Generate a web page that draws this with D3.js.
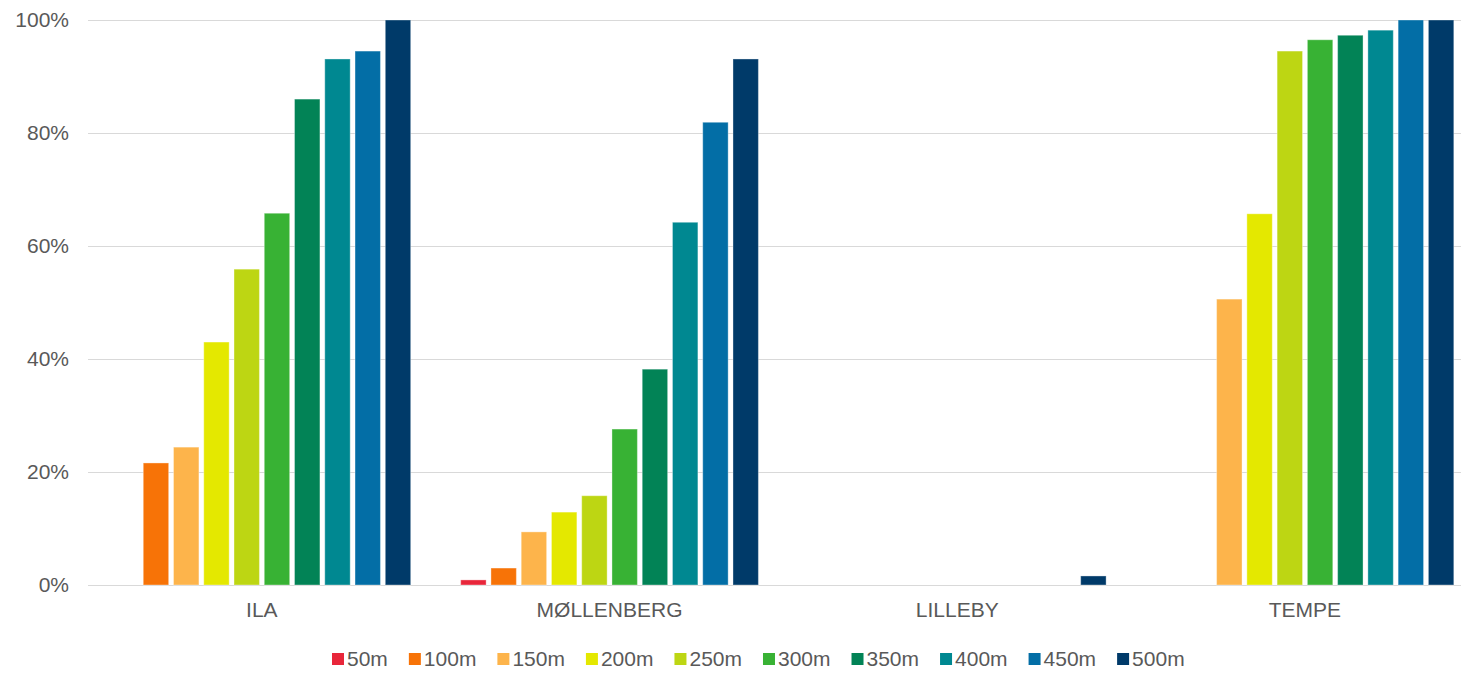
<!DOCTYPE html>
<html>
<head>
<meta charset="utf-8">
<script src="https://cdn.jsdelivr.net/npm/d3@7"></script>
<style>
  body { margin: 0; background: #fff; }
  svg { display: block; font-family: "Liberation Sans", Arial, sans-serif; }
</style>
</head>
<body>
<div id="chart"></div>
<script>
// categories and series
var categories = ["ILA", "MØLLENBERG", "LILLEBY", "TEMPE"];
var series = ["50m", "100m", "150m", "200m", "250m", "300m", "350m", "400m", "450m", "500m"];
var colors = ["#e8263a", "#f77307", "#fdb44b", "#e4e800", "#bdd613", "#38b234", "#028356", "#008891", "#036ea6", "#003a69"];

// share (%) per category, one value per series
var ila        = [0, 21.6, 24.4, 43.0, 55.9, 65.8, 86.0, 93.1, 94.5, 100];
var mollenberg = [0.9, 3.0, 9.4, 12.9, 15.8, 27.6, 38.2, 64.2, 81.9, 93.1];
var lilleby    = [0, 0, 0, 0, 0, 0, 0, 0, 0, 1.6];
var tempe      = [0, 0, 50.6, 65.7, 94.5, 96.5, 97.3, 98.2, 100, 100];

var yTicks = [0, 20, 40, 60, 80, 100];

var width = 1461,
    height = 673,
    marginLeft = 88,
    marginTop = 20,
    plotH = 565,
    bandW = 347.7;

var values = [ila, mollenberg, lilleby, tempe];
var data = [];
categories.forEach(function (c, i) {
    series.forEach(function (s, j) {
        data.push({cat: c, ser: s, value: values[i][j], color: colors[j]});
    });
});

var svg = d3.select("#chart").append("svg")
    .attr("width", width)
    .attr("height", height);

var x0 = d3.scaleBand()
    .domain(categories)
    .range([marginLeft, marginLeft + bandW * categories.length])
    .padding(0);

var x1 = d3.scaleBand()
    .domain(series)
    .range([25, bandW - 25])
    .paddingInner(0.16)
    .paddingOuter(0);

var y = d3.scaleLinear()
    .domain([0, 100])
    .range([marginTop + plotH, marginTop]);

// gridlines
svg.append("g")
    .selectAll("line")
    .data(yTicks)
    .enter()
    .append("line")
    .attr("x1", marginLeft)
    .attr("x2", marginLeft + bandW * categories.length)
    .attr("y1", function (d) { return Math.round(y(d)) + 0.5; })
    .attr("y2", function (d) { return Math.round(y(d)) + 0.5; })
    .attr("stroke", "#d9d9d9")
    .attr("stroke-width", 1);

// y labels
svg.append("g")
    .selectAll("text")
    .data(yTicks)
    .enter()
    .append("text")
    .attr("x", 69)
    .attr("y", function (d) { return y(d) + 7; })
    .attr("text-anchor", "end")
    .attr("font-size", "21px")
    .attr("fill", "#595959")
    .text(function (d) { return d + "%"; });

// bars
svg.append("g")
    .selectAll("rect")
    .data(data.filter(function (d) { return d.value > 0; }))
    .enter()
    .append("rect")
    .attr("x", function (d) { return x0(d.cat) + x1(d.ser); })
    .attr("y", function (d) { return y(d.value); })
    .attr("width", x1.bandwidth())
    .attr("height", function (d) { return y(0) - y(d.value); })
    .attr("fill", function (d) { return d.color; })
    .attr("stroke", "#ffffff")
    .attr("stroke-opacity", 0.35)
    .attr("stroke-width", 1);

// category labels
svg.append("g")
    .selectAll("text")
    .data(categories)
    .enter()
    .append("text")
    .attr("x", function (d) { return x0(d) + bandW / 2; })
    .attr("y", 617)
    .attr("text-anchor", "middle")
    .attr("font-size", "21px")
    .attr("fill", "#595959")
    .text(function (d) { return d; });

// legend
var legend = svg.append("g");
var lx = 332;
series.forEach(function (s, i) {
    var g = legend.append("g").attr("transform", "translate(" + lx + ",0)");
    g.append("rect")
        .attr("x", 0)
        .attr("y", 653)
        .attr("width", 12)
        .attr("height", 12)
        .attr("fill", colors[i]);
    var t = g.append("text")
        .attr("x", 15)
        .attr("y", 666)
        .attr("font-size", "21px")
        .attr("fill", "#595959")
        .text(s);
    lx += 15 + t.node().getComputedTextLength() + 21;
});
</script>
</body>
</html>
